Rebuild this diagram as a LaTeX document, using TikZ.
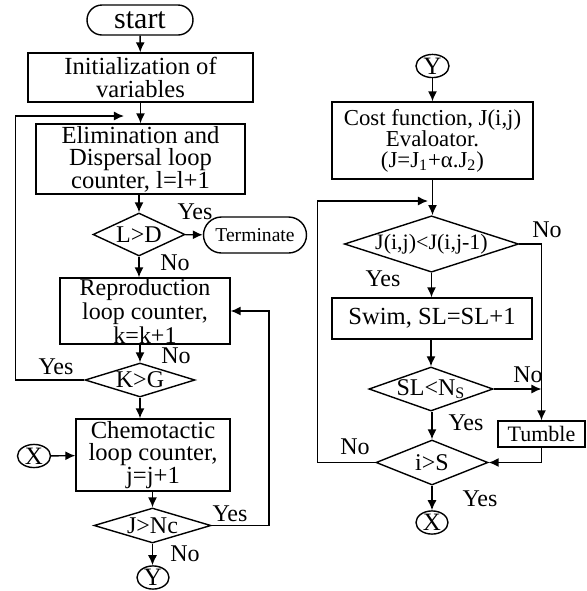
\documentclass[tikz,border=0pt]{standalone}
\usepackage{fontspec}
\setmainfont{Liberation Serif}
\usetikzlibrary{arrows.meta,shapes.geometric,shapes.misc}

\tikzset{
  flow/.style={line width=0.7pt,-{Latex[length=5pt,width=4.5pt]}},
  procbox/.style={draw,line width=0.7pt,rectangle,align=center,inner sep=0pt,font=\fontsize{12.3}{11.3}\selectfont},
  decide/.style={draw,line width=0.7pt,diamond,inner sep=0pt,font=\fontsize{12}{12}\selectfont},
  termbox/.style={draw,line width=0.7pt,rounded rectangle,inner sep=0pt},
  joint/.style={draw,line width=0.7pt,ellipse,inner sep=0pt,font=\fontsize{12.5}{12.5}\selectfont},
  answer/.style={inner sep=0pt,font=\fontsize{12}{12}\selectfont}
}

\begin{document}
\begin{tikzpicture}[x=0.5pt,y=-0.5pt]
\useasboundingbox (0,0) rectangle (586,591);

\node[termbox,minimum width=53pt,minimum height=15pt,font=\fontsize{15}{15}\selectfont] (start) at (140,20) {start};
\node[procbox,minimum width=112.5pt,minimum height=24.5pt] (init) at (140.5,77.5) {Initialization of\\variables};
\node[procbox,minimum width=104.5pt,minimum height=35pt] (elim) at (140.5,159) {Elimination and\\Dispersal loop\\counter, l=l+1};
\node[decide,aspect=2.14,minimum width=46pt,minimum height=21.5pt] (ld) at (139,234.5) {L>D};
\node[termbox,minimum width=51.5pt,minimum height=18pt,font=\fontsize{9.8}{9.8}\selectfont] (term) at (255,235) {Terminate};
\node[procbox,minimum width=85pt,minimum height=33pt,font=\fontsize{12}{10.8}\selectfont] (repro) at (145,311) {Reproduction\\loop counter,\\k=k+1};
\node[decide,aspect=3.24,minimum width=55pt,minimum height=17pt] (kg) at (140,380) {K>G};
\node[procbox,minimum width=77pt,minimum height=36pt] (chem) at (153,455) {Chemotactic\\loop counter,\\j=j+1};
\node[joint,minimum width=16.5pt,minimum height=10.5pt] (xin) at (34,456) {X};
\node[decide,aspect=3.34,minimum width=58.5pt,minimum height=17.5pt] (jnc) at (152.5,525.5) {J>Nc};
\node[joint,minimum width=16pt,minimum height=10.5pt] (yout) at (153,577.5) {Y};

\node[joint,minimum width=16.5pt,minimum height=11.5pt] (yin) at (432.5,66) {Y};
\node[procbox,minimum width=100.5pt,minimum height=38.5pt,font=\fontsize{11.4}{10.5}\selectfont] (cost) at (432.5,140.5) {Cost function, J(i,j)\\Evaloator.\\(J=J\textsubscript{1}+α.J\textsubscript{2})};
\node[decide,aspect=3.09,minimum width=86.5pt,minimum height=28pt,font=\fontsize{11}{11}\selectfont] (jj) at (431.5,244) {J(i,j)<J(i,j-1)};
\node[procbox,minimum width=100pt,minimum height=20.5pt] (swim) at (432,318.5) {Swim, SL=SL+1};
\node[decide,aspect=2.82,minimum width=62pt,minimum height=22pt] (sl) at (431,389) {SL<N\textsubscript{S}};
\node[procbox,minimum width=43.5pt,minimum height=13pt,font=\fontsize{11}{11}\selectfont] (tumble) at (541.5,434) {Tumble};
\node[decide,aspect=2.49,minimum width=56pt,minimum height=22.5pt] (is) at (432,462.5) {i>S};
\node[joint,minimum width=16pt,minimum height=11.5pt] (xout) at (432,522.5) {X};

\coordinate (elimin) at (124,116);
\coordinate (jjin) at (428,201);

\draw[flow] (start) -- (init);
\draw[flow] (init.south) -- (init.south |- elim.north);
\draw[flow] (elim.south -| ld.north) -- (ld.north);
\draw[flow] (ld) -- (term);
\draw[flow] (ld.south) -- (ld.south |- repro.north);
\draw[flow] (repro.south -| kg.north) -- (kg.north);
\draw[flow] (kg.south) -- (kg.south |- chem.north);
\draw[flow] (xin) -- (chem);
\draw[flow] (chem.south -| jnc.north) -- (jnc.north);
\draw[flow] (jnc.south) -- (jnc.south |- yout.north);
\draw[flow] (kg.west) -- ++(-69,0) |- (elimin);
\draw[flow] (jnc.east) -- ++(57.5,0) |- (repro.east);

\draw[flow] (yin) -- (yin |- cost.north);
\draw[flow] (cost.south) -- (cost.south |- jj.north);
\draw[flow] (jj.south) -- (jj.south |- swim.north);
\draw[flow] (swim.south -| sl.north) -- (sl.north);
\draw[flow] (sl.south -| is.north) -- (is.north);
\draw[flow] (is) -- (xout);
\draw[flow] (jj.east) -| (tumble.north);
\draw[flow] (sl.east) -- (sl.east -| tumble.north);
\draw[flow] (tumble.south) |- (is.east);
\draw[flow] (is.west) -- ++(-58,0) |- (jjin);

\node[answer] (ldyes) at (195,212) {Yes};
\node[answer] (ldno) at (175,263) {No};
\node[answer] (reprono) at (176,356) {No};
\node[answer] (kgyes) at (56,367) {Yes};
\node[answer] (jncyes) at (230,514) {Yes};
\node[answer] (jncno) at (185,554) {No};
\node[answer] (jjno) at (547,230) {No};
\node[answer] (jjyes) at (383,279) {Yes};
\node[answer] (slno) at (528,375) {No};
\node[answer] (slyes) at (466,423) {Yes};
\node[answer] (isno) at (355,447) {No};
\node[answer] (isyes) at (480,499) {Yes};

\end{tikzpicture}
\end{document}
